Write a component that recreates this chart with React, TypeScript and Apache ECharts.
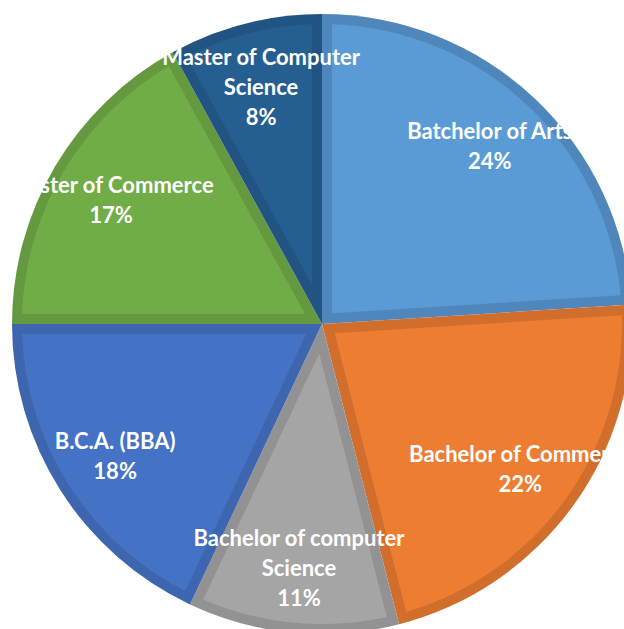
import React, { useEffect, useRef } from "react";
import * as echarts from "echarts";

const categories = [
  "Batchelor of Arts",
  "Bachelor of Commerce",
  "Bachelor of computer\nScience",
  "B.C.A. (BBA)",
  "Master of Commerce",
  "Master of Computer\nScience",
];
const values = [24, 22, 11, 18, 17, 8];
const fillColors = ["#5B9BD5", "#ED7D31", "#A5A5A5", "#4472C4", "#70AD47", "#255E91"];
const edgeColors = ["#4F87BD", "#D26E2C", "#929292", "#3D66AF", "#64993F", "#215483"];

const CX = 322;
const CY = 324;
const R = 310;
const EDGE = 10;

export default function App() {
  const ref = useRef<HTMLDivElement>(null);
  useEffect(() => {
    if (!ref.current) return;
    const chart = echarts.init(ref.current, null, { renderer: "svg" });
    const total = values.reduce((a, b) => a + b, 0);
    const base = {
      type: "pie" as const,
      center: [CX, CY],
      startAngle: 90,
      clockwise: true,
      animation: false,
      emphasis: { disabled: true },
      labelLine: { show: false },
    };
    // inner (lighter) face of each slice, inset from the slice edges by EDGE px
    const renderInset = (params: any, api: any) => {
      const idx = params.dataIndex;
      let before = 0;
      for (let k = 0; k < idx; k++) before += values[k];
      const v = Number(api.value(0));
      const a0 = (before / total) * Math.PI * 2;
      const a1 = ((before + v) / total) * Math.PI * 2;
      const span = a1 - a0;
      const ra = R - EDGE;
      const pt = (ang: number, r: number) => [CX + r * Math.sin(ang), CY - r * Math.cos(ang)];
      const tipDist = EDGE / Math.sin(span / 2);
      const mid = (a0 + a1) / 2;
      const delta = Math.asin(EDGE / ra);
      const s = a0 + delta;
      const e = a1 - delta;
      const pts: number[][] = [pt(mid, tipDist)];
      const n = 80;
      for (let j = 0; j <= n; j++) pts.push(pt(s + ((e - s) * j) / n, ra));
      return {
        type: "polygon",
        z2: 10,
        shape: { points: pts },
        style: { fill: fillColors[idx] },
      };
    };
    chart.setOption({
      animation: false,
      backgroundColor: "#ffffff",
      series: [
        {
          ...base,
          name: "edge",
          radius: R,
          silent: true,
          z: 1,
          label: { show: false },
          data: categories.map((name, i) => ({
            name,
            value: values[i],
            itemStyle: { color: edgeColors[i] },
          })),
        },
        {
          type: "custom",
          name: "face",
          coordinateSystem: "none",
          silent: true,
          animation: false,
          z: 3,
          renderItem: renderInset,
          dimensions: ["value"],
          data: values.map((v) => [v]),
        },
        {
          ...base,
          name: "Share",
          radius: [174, R],
          silent: true,
          z: 5,
          label: {
            show: true,
            position: "inside",
            formatter: "{b}\n{c}%",
            color: "#ffffff",
            fontFamily: "Lato",
            fontWeight: "bold",
            fontSize: 22,
            lineHeight: 30,
            align: "center",
          },
          data: categories.map((name, i) => ({
            name,
            value: values[i],
            itemStyle: { color: "rgba(0,0,0,0)" },
          })),
        },
      ],
    });
    return () => chart.dispose();
  }, []);
  return (
    <div
      ref={ref}
      style={{ position: "absolute", left: 0, top: 0, width: 624, height: 629 }}
    />
  );
}
